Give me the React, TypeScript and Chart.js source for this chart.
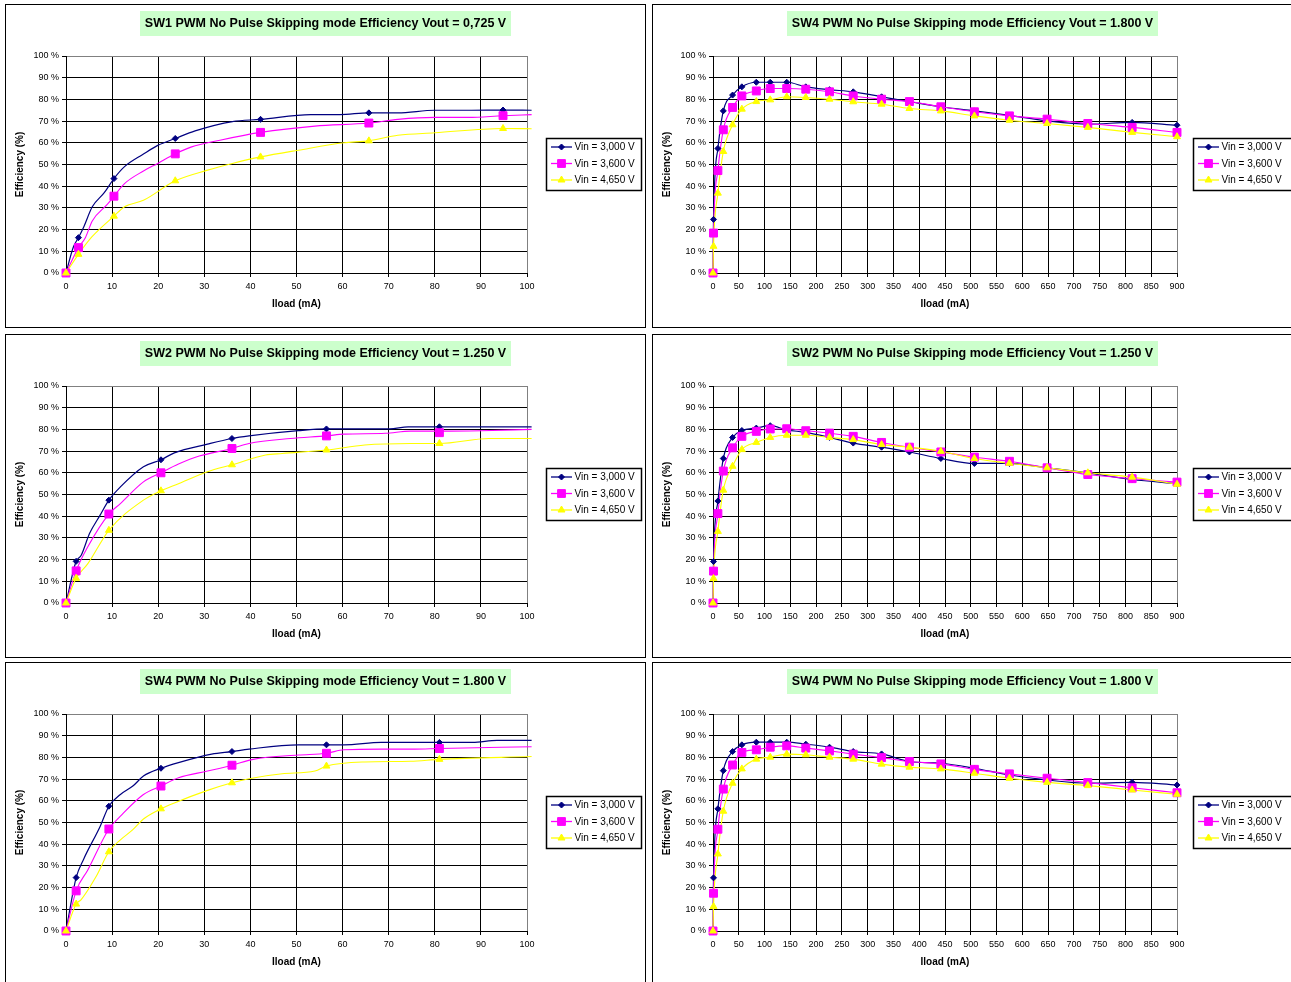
import React, { useEffect, useRef } from 'react';
import { Chart, registerables } from 'chart.js';

Chart.register(...registerables);

const FONT = "'Liberation Sans', Arial, sans-serif";

// ---------- common labels ----------
const seriesLabels = ['Vin = 3,000 V', 'Vin = 3,600 V', 'Vin = 4,650 V'];
const yTickValues = [0, 10, 20, 30, 40, 50, 60, 70, 80, 90, 100];
const lowLoadTicks = [0, 10, 20, 30, 40, 50, 60, 70, 80, 90, 100];
const highLoadTicks = [0, 50, 100, 150, 200, 250, 300, 350, 400, 450, 500, 550, 600, 650, 700, 750, 800, 850, 900];
const xAxisTitle = 'Iload (mA)';
const yAxisTitle = 'Efficiency (%)';

const title1 = 'SW1 PWM No Pulse Skipping mode Efficiency Vout = 0,725 V';
const title2 = 'SW4 PWM No Pulse Skipping mode Efficiency Vout = 1.800 V';
const title3 = 'SW2 PWM No Pulse Skipping mode Efficiency Vout = 1.250 V';
const title4 = 'SW2 PWM No Pulse Skipping mode Efficiency Vout = 1.250 V';
const title5 = 'SW4 PWM No Pulse Skipping mode Efficiency Vout = 1.800 V';
const title6 = 'SW4 PWM No Pulse Skipping mode Efficiency Vout = 1.800 V';

// ---------- chart 1 : SW1 0,725 V, 0-100 mA ----------
const c1MarkX = [0, 2.7, 10.4, 23.7, 42.2, 65.7, 94.8];
const c1Mark30 = [0, 16.3, 43.5, 62, 70.8, 73.8, 75.1];
const c1Mark36 = [0, 11.7, 35.4, 54.9, 64.8, 69.1, 72.5];
const c1Mark46 = [0, 8.6, 26.2, 42.5, 53.5, 60.9, 66.6];
const c1LineX30 = [0, 1.6, 2.7, 3.8, 5.7, 8.3, 10.4, 12.7, 16.8, 19.9, 23.7, 28, 36.1, 42.2, 53.1, 59.4, 65.7, 72, 80, 88, 94.8, 101];
const c1LineY30 = [0, 12, 16.3, 21, 30.5, 37, 43.5, 49, 54.8, 58.8, 62, 65.5, 69.8, 70.8, 73, 73, 73.8, 73.8, 75, 75, 75.1, 75];
const c1LineX36 = [0, 2.7, 4.2, 5.7, 9, 10.4, 12.7, 16.8, 19.9, 23.7, 27.1, 33.4, 42.2, 54, 65.7, 72, 80, 87.3, 94.8, 101];
const c1LineY36 = [0, 11.7, 16.3, 24, 31.7, 35.4, 41.2, 47, 50.5, 54.9, 58, 61.2, 64.8, 67.7, 69.1, 70.8, 71.7, 71.7, 72.5, 73];
const c1LineX46 = [0, 2.7, 5.6, 10.4, 12.7, 16.8, 23.7, 30.7, 36.1, 42.2, 50.4, 60.3, 65.7, 72, 80, 94.8, 101];
const c1LineY46 = [0, 8.6, 16.6, 26.2, 30.5, 33.5, 42.5, 47.4, 50.5, 53.5, 56.6, 60, 60.9, 63.5, 64.6, 66.6, 66.5];

// ---------- chart 3 : SW2 1.250 V, 0-100 mA ----------
const c3MarkX = [0, 2.2, 9.3, 20.6, 36, 56.5, 81];
const c3Mark30 = [0, 19.2, 47.4, 66, 75.8, 80.2, 81.2];
const c3Mark36 = [0, 14.8, 41, 60, 71.2, 77, 78.5];
const c3Mark46 = [0, 11.4, 33.5, 51.7, 63.7, 70.5, 73.5];
const c3LineX30 = [0, 2.2, 3.3, 5.1, 7.4, 9.3, 11.8, 16.8, 20.6, 23.5, 30.7, 36, 39.7, 50.4, 56.5, 60.3, 70.2, 74.2, 81, 101];
const c3LineY30 = [0, 19.2, 22, 32, 40.5, 47.4, 53.5, 62.8, 66, 69.2, 73.2, 75.8, 77, 79.4, 80.2, 80.2, 80.2, 81.2, 81.2, 81.2];
const c3LineX36 = [0, 2.2, 4.7, 9.3, 11.8, 16.8, 20.6, 24.4, 28.9, 36, 39.7, 48.7, 56.5, 60.3, 69.3, 74.7, 81, 90, 101];
const c3LineY36 = [0, 14.8, 25.8, 41, 45.8, 55.8, 60, 64, 67.7, 71.2, 73.5, 75.8, 77, 77.8, 78.2, 79.2, 79.2, 79.4, 80];
const c3LineX46 = [0, 2.2, 4.7, 9.3, 16.8, 20.6, 24.4, 30.7, 36, 43.3, 46.9, 56.5, 64.8, 74.7, 81, 91.7, 101];
const c3LineY46 = [0, 11.4, 18, 33.5, 47.4, 51.7, 55, 60.5, 63.7, 68.2, 68.9, 70.5, 72.8, 73.5, 73.5, 75.8, 75.8];

// ---------- chart 5 : SW4 1.800 V, 0-100 mA ----------
const c5MarkX = [0, 2.2, 9.3, 20.6, 36, 56.5, 81];
const c5Mark30 = [0, 24.6, 57.5, 75, 82.7, 85.8, 86.9];
const c5Mark36 = [0, 18.5, 47, 66.8, 76.4, 81.9, 84.1];
const c5Mark46 = [0, 12.4, 36.5, 56.3, 68.3, 76, 79.1];
const c5LineX30 = [0, 2.2, 3.8, 7.4, 9.3, 11.8, 14.5, 16.8, 20.6, 24.4, 31.6, 36, 39.7, 50.4, 56.5, 60.3, 68.4, 81, 88.2, 93.5, 101];
const c5LineY30 = [0, 24.6, 33, 48.2, 57.5, 62.9, 66.8, 71.4, 75, 77.6, 81.5, 82.7, 83.8, 85.8, 85.8, 85.8, 86.9, 86.9, 86.9, 87.8, 87.8];
const c5LineX36 = [0, 2.2, 4.7, 9.3, 11.8, 16.8, 20.6, 24.4, 30.7, 36, 40.6, 50.4, 56.5, 60.3, 68.4, 75.6, 81, 101];
const c5LineY36 = [0, 18.5, 28, 47, 52.9, 62.9, 66.8, 70.6, 73.7, 76.4, 79.1, 81.1, 81.9, 83.5, 83.8, 83.8, 84.1, 84.9];
const c5LineX46 = [0, 2.2, 3.3, 6.5, 9.3, 11.8, 14.5, 16.8, 20.6, 23.5, 30.7, 36, 39.7, 46.9, 54, 56.5, 64.8, 74.7, 81, 101];
const c5LineY46 = [0, 12.4, 14.5, 25, 36.5, 42, 46.7, 51.6, 56.3, 59, 64.8, 68.3, 70.2, 72.5, 73.7, 76, 77.9, 78.2, 79.1, 80.4];

// ---------- wide-range load points (0-900 mA) ----------
const wideX = [0, 1, 9.5, 20, 38, 56, 84, 111, 143, 180, 226, 272, 327, 381, 442, 507, 575, 648, 727, 813, 900];

// chart 2 : SW4 1.800 V
const c2Y30 = [0, 24.7, 57.4, 74.7, 82, 85.8, 87.9, 87.9, 87.9, 85.8, 84.5, 83.5, 81.2, 79, 76.6, 74.7, 72.6, 70.1, 68.6, 69.4, 68.1];
const c2Y36 = [0, 18.4, 47.2, 66, 76.3, 81.6, 83.9, 85, 85, 84.7, 83.5, 81.6, 80.1, 79, 76.6, 74.3, 72.4, 70.9, 68.9, 67.1, 64.8];
const c2Y46 = [0, 12.3, 36.8, 56, 68.3, 75.5, 79, 79.8, 81.2, 80.9, 80.1, 78.9, 77.8, 75.8, 74.7, 72.4, 70.4, 68.9, 67.1, 64.8, 62.8];

// chart 4 : SW2 1.250 V
const c4Y30 = [0, 19.1, 47, 66.6, 76.3, 79.5, 80.6, 81.7, 79.8, 78.6, 76.3, 73.7, 71.8, 69.6, 66.6, 64.3, 64.3, 62.3, 60, 56.9, 55];
const c4Y36 = [0, 14.7, 41.2, 60.8, 71.5, 76.8, 79.1, 80.2, 80.3, 79.4, 78.3, 76.8, 74, 71.8, 69.6, 67.2, 65.3, 62.3, 59.2, 57.3, 55.7];
const c4Y46 = [0, 11.3, 33, 52, 63, 70.7, 74, 76.3, 77.3, 77.3, 76.3, 75.3, 73, 71.8, 69.9, 66.6, 64.4, 62.3, 60, 58, 54.7];

// chart 6 : SW4 1.800 V
const c6Y30 = [0, 24.5, 56.3, 73.9, 82.7, 85.8, 87, 87, 87, 86.1, 84.7, 82.7, 81.6, 78.1, 77.3, 75, 71.9, 69.6, 68.1, 68.5, 67.3];
const c6Y36 = [0, 17.4, 46.9, 65.4, 76.5, 82.3, 83.5, 84.7, 85.3, 84.3, 83, 81.5, 79.9, 78.1, 77, 74.5, 72.4, 70.4, 68.4, 66, 63.7];
const c6Y46 = [0, 11.3, 35.5, 55.2, 68.1, 74.7, 79.2, 80.1, 81.5, 81.2, 80.1, 79.2, 76.9, 75.5, 74.7, 72.7, 70.4, 68.5, 67, 65, 63];

// ---------- styles ----------
const COLORS = ['#000080', '#FF00FF', '#FFFF00'];
const POINT_STYLES = ['rectRot', 'rect', 'triangle'];
const POINT_RADII = [3, 5.6, 4];
const LINE_WIDTHS = [1.2, 1.1, 1.1];

type Series = { lx: number[]; ly: number[]; mx: number[]; my: number[] };

type PanelCfg = {
  title: string;
  left: number;
  top: number;
  xMax: number;
  xTicks: number[];
  padRight: number;
  legendW: number;
  series: Series[];
};

const CANVAS_W = 639;
const CANVAS_H = 322;

function drawMarker(ctx: CanvasRenderingContext2D, kind: number, x: number, y: number) {
  ctx.fillStyle = COLORS[kind];
  ctx.strokeStyle = COLORS[kind];
  ctx.lineWidth = 1;
  ctx.beginPath();
  if (kind === 0) {
    const r = 3;
    ctx.moveTo(x - r, y);
    ctx.lineTo(x, y - r);
    ctx.lineTo(x + r, y);
    ctx.lineTo(x, y + r);
    ctx.closePath();
  } else if (kind === 1) {
    const s = 3.9;
    ctx.rect(x - s, y - s, 2 * s, 2 * s);
  } else {
    const r = 4;
    ctx.moveTo(x, y - r);
    ctx.lineTo(x + r * 0.866, y + r * 0.5);
    ctx.lineTo(x - r * 0.866, y + r * 0.5);
    ctx.closePath();
  }
  ctx.fill();
  ctx.stroke();
}

const decorPlugin = {
  id: 'decor',
  afterDraw(chart: any, _args: any, opts: any) {
    const { ctx, chartArea: a } = chart;
    ctx.save();
    // title box
    ctx.fillStyle = '#CCFFCC';
    ctx.fillRect(134, 6, 371, 25);
    ctx.fillStyle = '#000';
    ctx.font = `bold 12.5px ${FONT}`;
    ctx.textAlign = 'center';
    ctx.textBaseline = 'middle';
    ctx.fillText(opts.title, 319.5, 18.5, 362);

    // axis titles
    ctx.font = `bold 10px ${FONT}`;
    ctx.fillText(xAxisTitle, (a.left + a.right) / 2, a.bottom + 31);
    ctx.save();
    ctx.translate(14, (a.top + a.bottom) / 2);
    ctx.rotate(-Math.PI / 2);
    ctx.fillText(yAxisTitle, 0, 0);
    ctx.restore();

    // legend
    const lx = 540.5;
    const ly = 133.5;
    const lw = opts.legendW;
    const lh = 52;
    ctx.fillStyle = '#fff';
    ctx.fillRect(lx, ly, lw, lh);
    ctx.strokeStyle = '#000';
    ctx.lineWidth = 1.5;
    ctx.strokeRect(lx, ly, lw, lh);
    const rows = [142, 158.5, 175];
    ctx.font = `10px ${FONT}`;
    ctx.textAlign = 'left';
    for (let i = 0; i < 3; i++) {
      const y = rows[i];
      ctx.strokeStyle = COLORS[i];
      ctx.lineWidth = 1.3;
      ctx.beginPath();
      ctx.moveTo(545, y);
      ctx.lineTo(566, y);
      ctx.stroke();
      drawMarker(ctx, i, 555.5, y);
      ctx.fillStyle = '#000';
      ctx.fillText(seriesLabels[i], 568.5, y + 0.5);
    }
    ctx.restore();
  },
};

function buildDatasets(series: Series[]) {
  const ds: any[] = [];
  series.forEach((s, i) => {
    ds.push({
      label: seriesLabels[i] + ' line',
      data: s.lx.map((x, k) => ({ x, y: s.ly[k] })),
      borderColor: COLORS[i],
      borderWidth: LINE_WIDTHS[i],
      pointRadius: 0,
      fill: false,
      cubicInterpolationMode: 'monotone',
      clip: false,
      order: 6 - i,
    });
    ds.push({
      label: seriesLabels[i],
      data: s.mx.map((x, k) => ({ x, y: s.my[k] })),
      showLine: false,
      pointStyle: POINT_STYLES[i],
      pointRadius: POINT_RADII[i],
      backgroundColor: COLORS[i],
      borderColor: COLORS[i],
      borderWidth: 1,
      clip: false,
      order: 3 - i,
    });
  });
  return ds;
}

function Panel({ cfg }: { cfg: PanelCfg }) {
  const ref = useRef<HTMLCanvasElement | null>(null);
  useEffect(() => {
    if (!ref.current) return;
    const tickFont = { family: FONT, size: 9 };
    const chart = new Chart(ref.current, {
      type: 'line',
      data: { datasets: buildDatasets(cfg.series) },
      options: {
        animation: false,
        responsive: false,
        events: [],
        layout: { padding: { left: 5, right: cfg.padRight, top: 51, bottom: 14 } },
        plugins: {
          legend: { display: false },
          title: { display: false },
          tooltip: { enabled: false },
          decor: { title: cfg.title, legendW: cfg.legendW },
        } as any,
        scales: {
          x: {
            type: 'linear',
            min: 0,
            max: cfg.xMax,
            afterBuildTicks: (s: any) => {
              s.ticks = cfg.xTicks.map((v) => ({ value: v }));
            },
            afterFit: (s: any) => {
              s.height = 40;
            },
            ticks: {
              font: tickFont,
              color: '#000',
              padding: 4,
              maxRotation: 0,
              autoSkip: false,
              callback: (v: any) => String(v),
            },
            grid: {
              color: (c: any) => (c.tick && c.tick.value === cfg.xMax ? '#808080' : '#000'),
              lineWidth: 1,
              tickLength: 4,
              tickColor: '#000',
            },
            border: { color: '#000', width: 1 },
          },
          y: {
            type: 'linear',
            min: 0,
            max: 100,
            afterBuildTicks: (s: any) => {
              s.ticks = yTickValues.map((v) => ({ value: v }));
            },
            afterFit: (s: any) => {
              s.width = 55;
            },
            ticks: {
              font: tickFont,
              color: '#000',
              padding: 3,
              callback: (v: any) => v + ' %',
            },
            grid: {
              color: (c: any) => (c.tick && c.tick.value === 100 ? '#808080' : '#000'),
              lineWidth: 1,
              tickLength: 4,
              tickColor: '#000',
            },
            border: { color: '#000', width: 1 },
          },
        },
      } as any,
      plugins: [decorPlugin as any],
    });
    return () => chart.destroy();
  }, [cfg]);

  return (
    <div
      style={{
        position: 'absolute',
        left: cfg.left,
        top: cfg.top,
        width: CANVAS_W + 2,
        height: CANVAS_H + 2,
        border: '1px solid #000',
        boxSizing: 'border-box',
        background: '#fff',
      }}
    >
      <canvas
        ref={ref}
        width={CANVAS_W}
        height={CANVAS_H}
        style={{ display: 'block', width: CANVAS_W, height: CANVAS_H }}
      />
    </div>
  );
}

const wide = (y30: number[], y36: number[], y46: number[]): Series[] => [
  { lx: wideX, ly: y30, mx: wideX, my: y30 },
  { lx: wideX, ly: y36, mx: wideX, my: y36 },
  { lx: wideX, ly: y46, mx: wideX, my: y46 },
];

const LEFT_X = 5;
const RIGHT_X = 652;

const panels: PanelCfg[] = [
  {
    title: title1, left: LEFT_X, top: 4, xMax: 100, xTicks: lowLoadTicks, padRight: 118, legendW: 95,
    series: [
      { lx: c1LineX30, ly: c1LineY30, mx: c1MarkX, my: c1Mark30 },
      { lx: c1LineX36, ly: c1LineY36, mx: c1MarkX, my: c1Mark36 },
      { lx: c1LineX46, ly: c1LineY46, mx: c1MarkX, my: c1Mark46 },
    ],
  },
  {
    title: title2, left: RIGHT_X, top: 4, xMax: 900, xTicks: highLoadTicks, padRight: 115, legendW: 100,
    series: wide(c2Y30, c2Y36, c2Y46),
  },
  {
    title: title3, left: LEFT_X, top: 334, xMax: 100, xTicks: lowLoadTicks, padRight: 118, legendW: 95,
    series: [
      { lx: c3LineX30, ly: c3LineY30, mx: c3MarkX, my: c3Mark30 },
      { lx: c3LineX36, ly: c3LineY36, mx: c3MarkX, my: c3Mark36 },
      { lx: c3LineX46, ly: c3LineY46, mx: c3MarkX, my: c3Mark46 },
    ],
  },
  {
    title: title4, left: RIGHT_X, top: 334, xMax: 900, xTicks: highLoadTicks, padRight: 115, legendW: 100,
    series: wide(c4Y30, c4Y36, c4Y46),
  },
  {
    title: title5, left: LEFT_X, top: 662, xMax: 100, xTicks: lowLoadTicks, padRight: 118, legendW: 95,
    series: [
      { lx: c5LineX30, ly: c5LineY30, mx: c5MarkX, my: c5Mark30 },
      { lx: c5LineX36, ly: c5LineY36, mx: c5MarkX, my: c5Mark36 },
      { lx: c5LineX46, ly: c5LineY46, mx: c5MarkX, my: c5Mark46 },
    ],
  },
  {
    title: title6, left: RIGHT_X, top: 662, xMax: 900, xTicks: highLoadTicks, padRight: 115, legendW: 100,
    series: wide(c6Y30, c6Y36, c6Y46),
  },
];

export default function App() {
  return (
    <div
      style={{
        position: 'fixed',
        left: 0,
        top: 0,
        width: 1291,
        height: 982,
        overflow: 'hidden',
        background: '#fff',
      }}
    >
      {panels.map((p, i) => (
        <Panel key={i} cfg={p} />
      ))}
    </div>
  );
}
